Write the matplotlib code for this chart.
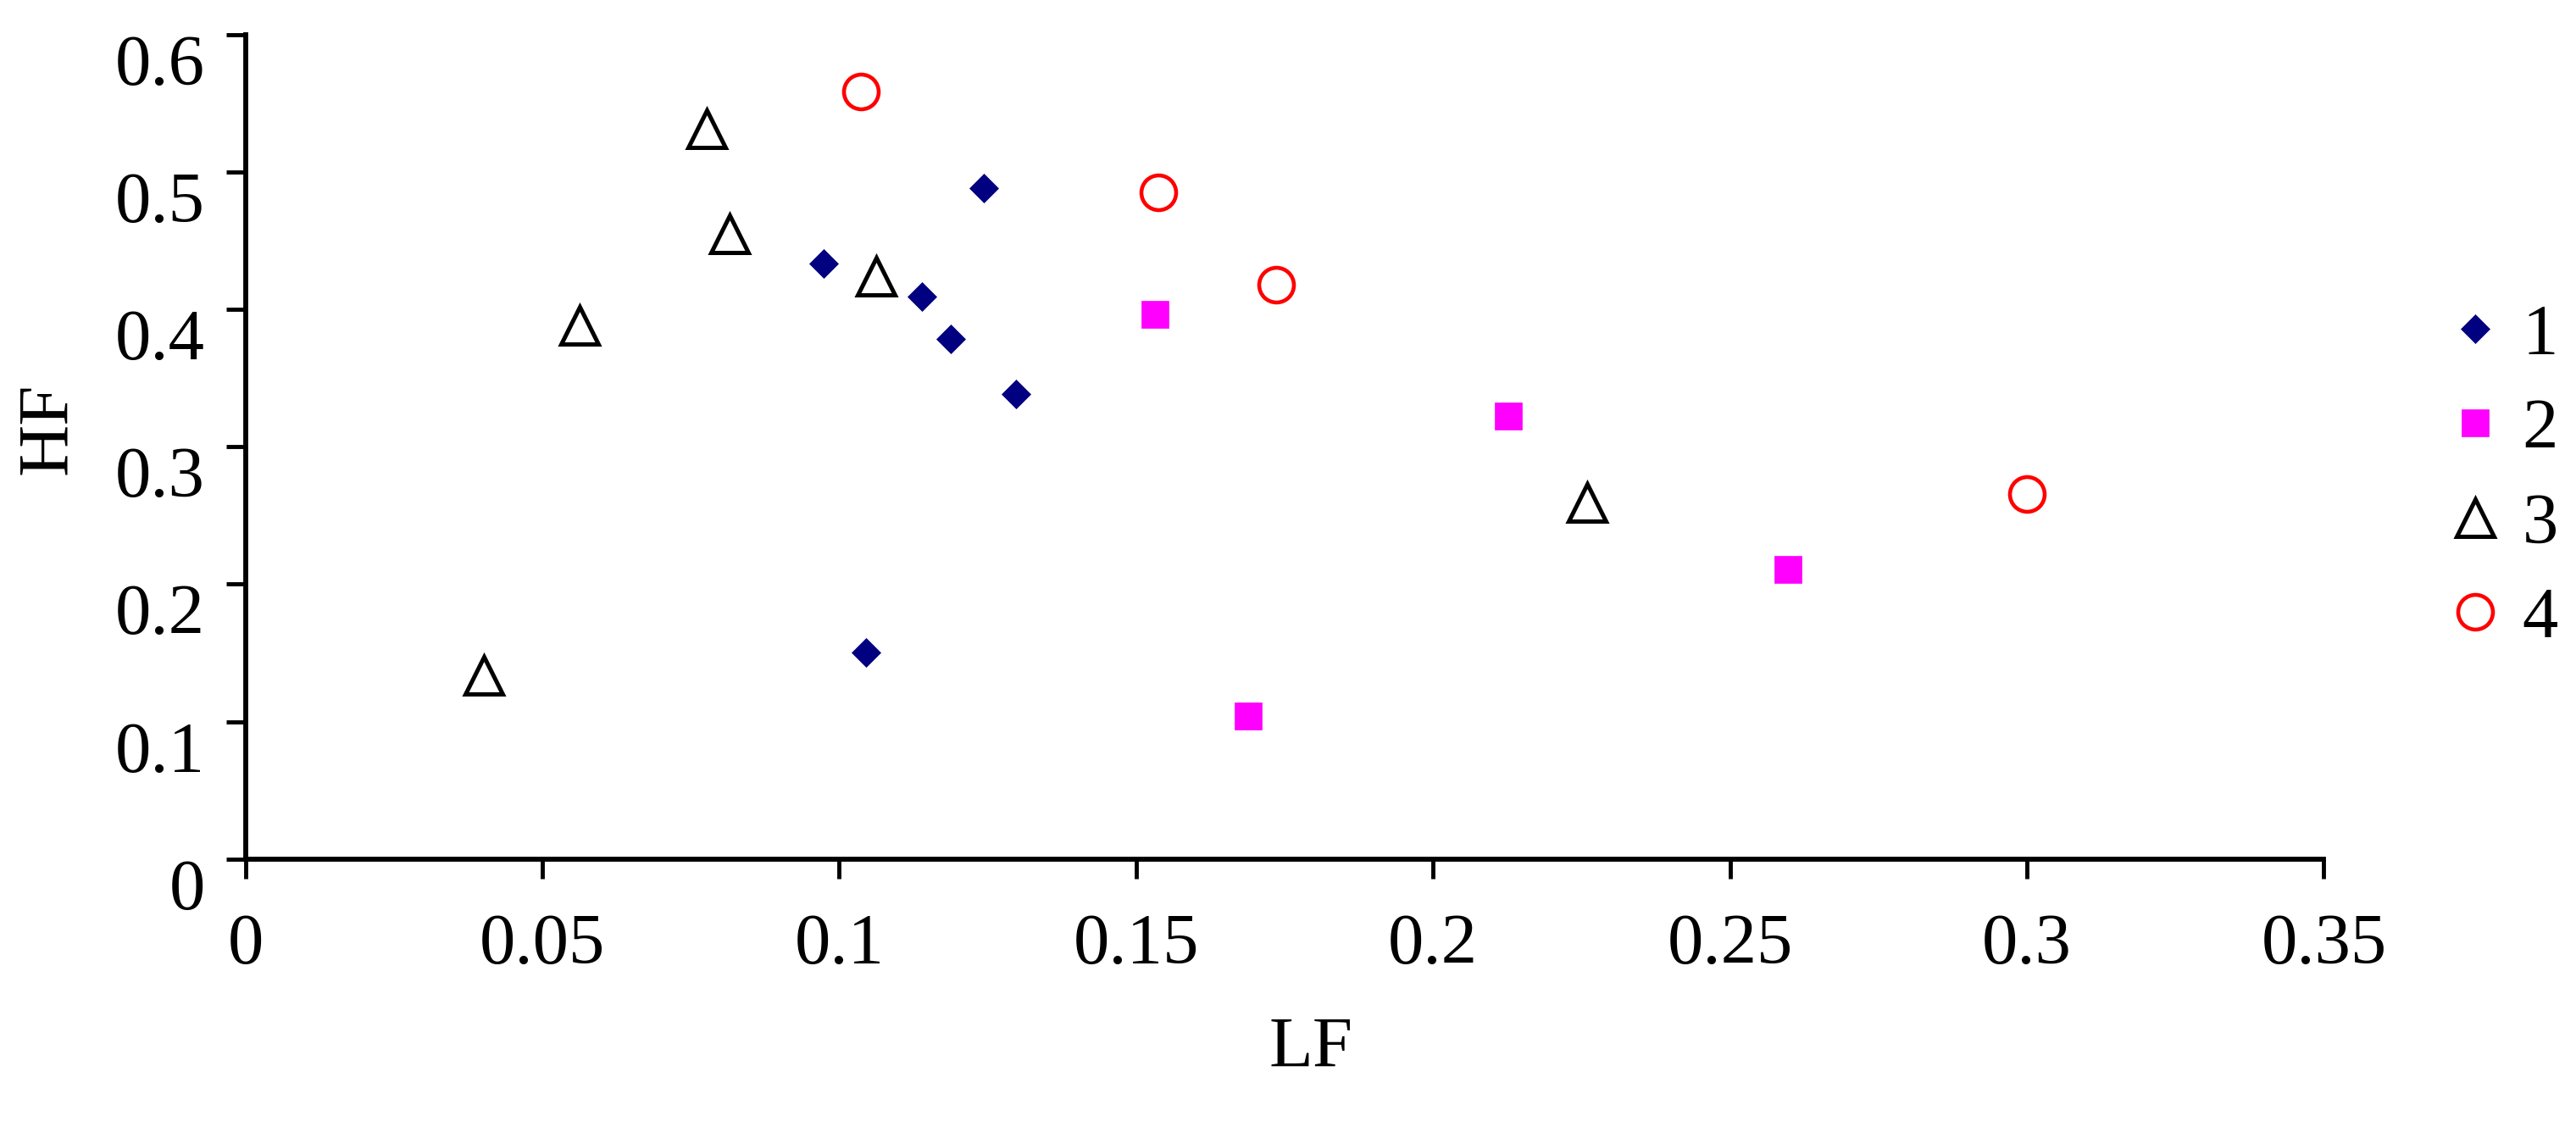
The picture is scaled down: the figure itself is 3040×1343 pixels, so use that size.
# -*- coding: utf-8 -*-
import matplotlib
matplotlib.use('Agg')
import matplotlib.pyplot as plt

# LF / HF values per group
lf_1 = [0.0973, 0.1243, 0.1139, 0.1188, 0.1298, 0.1045]
hf_1 = [0.4334, 0.4882, 0.4095, 0.3784, 0.3381, 0.1500]

lf_2 = [0.1531, 0.2126, 0.2598, 0.1689]
hf_2 = [0.3962, 0.3222, 0.2107, 0.1038]

lf_3 = [0.0776, 0.0815, 0.1062, 0.0562, 0.2260, 0.0401]
hf_3 = [0.5316, 0.4551, 0.4238, 0.3881, 0.2597, 0.1336]

lf_4 = [0.1037, 0.1538, 0.1735, 0.3000]
hf_4 = [0.5586, 0.4849, 0.4177, 0.2655]

group_labels = ['1', '2', '3', '4']

xticks = [0, 0.05, 0.1, 0.15, 0.2, 0.25, 0.3, 0.35]
xtick_labels = ['0', '0.05', '0.1', '0.15', '0.2', '0.25', '0.3', '0.35']
yticks = [0, 0.1, 0.2, 0.3, 0.4, 0.5, 0.6]
ytick_labels = ['0', '0.1', '0.2', '0.3', '0.4', '0.5', '0.6']


def main():

	plt.rcParams['font.family'] = ['Liberation Serif', 'DejaVu Serif']
	plt.rcParams['font.size'] = 61
	plt.rcParams['ytick.alignment'] = 'top'

	fig = plt.figure(figsize=(30.4, 13.43), dpi=100)
	ax = fig.add_axes([0.0953, 0.2452, 0.8068, 0.7245])

	ax.plot(lf_1, hf_1, linestyle='none', marker='D', ms=17, color='#000080',
			mec='#000080', mew=0.5, label=group_labels[0])
	ax.plot(lf_2, hf_2, linestyle='none', marker='s', ms=22.5, color='#FF00FF',
			mec='#FF00FF', mew=0.5, label=group_labels[1])
	ax.plot(lf_3, hf_3, linestyle='none', marker='^', ms=31, mfc='none',
			mec='black', mew=3.6, label=group_labels[2])
	ax.plot(lf_4, hf_4, linestyle='none', marker='o', ms=29.5, mfc='none',
			mec='#FF0000', mew=3.3, label=group_labels[3])

	ax.set_xlim(0, 0.35)
	ax.set_ylim(0, 0.6)
	ax.set_xticks(xticks)
	ax.set_xticklabels(xtick_labels)
	ax.set_yticks(yticks)
	ax.set_yticklabels(ytick_labels)

	for side in ['top', 'right']:
		ax.spines[side].set_visible(False)
	for side in ['left', 'bottom']:
		ax.spines[side].set_linewidth(4.2)

	ax.tick_params(axis='both', direction='out', length=16.5, width=3.5)
	ax.tick_params(axis='x', pad=30)
	ax.tick_params(axis='y', pad=18)

	ax.set_xlabel('LF')
	ax.set_ylabel('HF')
	ax.xaxis.set_label_coords(0.5127, -0.191)
	ax.yaxis.set_label_coords(-0.079, 0.522)

	ax.legend(loc='center left', bbox_to_anchor=(0.947, 0.58),
			bbox_transform=fig.transFigure, frameon=False, numpoints=1,
			handlelength=1.0, handletextpad=0.15, borderpad=0,
			labelspacing=0.40, borderaxespad=0)

	fig.savefig('out.png', dpi=100, facecolor='white')


if __name__ == "__main__":
	main()
